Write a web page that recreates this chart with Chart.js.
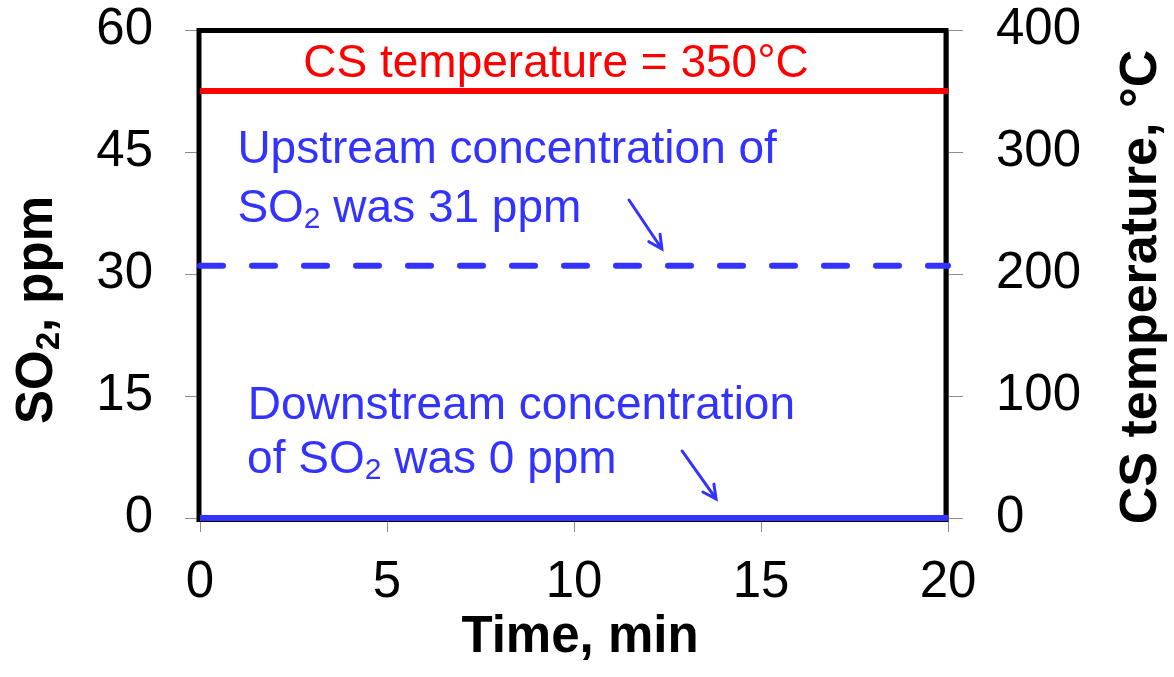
<!DOCTYPE html>
<html>
<head>
<meta charset="utf-8">
<script src="https://cdn.jsdelivr.net/npm/chart.js@4"></script>
<style>
  html, body { margin: 0; padding: 0; background: #fff; }
  #chart { display: block; }
</style>
</head>
<body>
<canvas id="chart" width="1174" height="677"></canvas>
<script>
const timeMin = [0, 20];
const upstreamSO2 = [31, 31];
const downstreamSO2 = [0, 0];
const csTemperature = [350, 350];

const xTicks = [0, 5, 10, 15, 20];
const so2Ticks = [0, 15, 30, 45, 60];
const tempTicks = [0, 100, 200, 300, 400];

const FONT = "'Liberation Sans', Arial, sans-serif";
const BLUE = '#3333ff';
const RED = '#ff0000';
const AXIS_GREY = '#8c8c8c';

// text notes placed in data units (min, ppm); sub parts are subscripts
const NOTES = [
    { x: 9.52, y: 54.2, align: 'center', color: RED, parts: [{ t: 'CS temperature = 350°C' }] },
    { x: 1.0, y: 43.65, align: 'left', color: BLUE, parts: [{ t: 'Upstream concentration of' }] },
    { x: 1.0, y: 36.4, align: 'left', color: BLUE, parts: [{ t: 'SO' }, { t: '2', sub: true }, { t: ' was 31 ppm' }] },
    { x: 1.28, y: 12.17, align: 'left', color: BLUE, parts: [{ t: 'Downstream concentration' }] },
    { x: 1.26, y: 5.53, align: 'left', color: BLUE, parts: [{ t: 'of SO' }, { t: '2', sub: true }, { t: ' was 0 ppm' }] },
];

const ARROWS = [
    { from: [11.47, 39.1], to: [12.35, 33.07] },
    { from: [12.89, 8.24], to: [13.8, 2.34] },
];

function pointsOf(values) {
    return timeMin.map((t, i) => ({ x: t, y: values[i] }));
}

function drawRich(ctx, parts, x, y, size, weight, align) {
    const main = `${weight} ${size}px ${FONT}`;
    const sub = `${weight} ${Math.round(size * 0.65)}px ${FONT}`;
    const widths = parts.map((p) => {
        ctx.font = p.sub ? sub : main;
        return ctx.measureText(p.t).width;
    });
    const total = widths.reduce((s, w) => s + w, 0);
    let cx = align === 'center' ? x - total / 2 : x;
    ctx.textAlign = 'left';
    ctx.textBaseline = 'alphabetic';
    parts.forEach((p, i) => {
        ctx.font = p.sub ? sub : main;
        ctx.fillText(p.t, cx, p.sub ? y + size * 0.14 : y);
        cx += widths[i];
    });
}

function drawArrow(ctx, x0, y0, x1, y1) {
    const ang = Math.atan2(y1 - y0, x1 - x0);
    const head = 15;
    const spread = Math.PI / 6.7;
    ctx.beginPath();
    ctx.moveTo(x0, y0);
    ctx.lineTo(x1, y1);
    ctx.moveTo(x1 - head * Math.cos(ang - spread), y1 - head * Math.sin(ang - spread));
    ctx.lineTo(x1, y1);
    ctx.lineTo(x1 - head * Math.cos(ang + spread), y1 - head * Math.sin(ang + spread));
    ctx.stroke();
}

const decorPlugin = {
    id: 'decor',
    beforeDatasetsDraw(chart) {
        const { ctx, chartArea: a } = chart;
        ctx.save();
        ctx.strokeStyle = '#000';
        ctx.lineWidth = 5;
        ctx.strokeRect(a.left - 1, a.top + 0.5, a.right - a.left - 1, a.bottom - a.top + 1);
        ctx.restore();
    },
    afterDatasetsDraw(chart) {
        const { ctx, chartArea: a, scales } = chart;
        const xs = scales.x;
        const ys = scales.y;
        ctx.save();

        NOTES.forEach((n) => {
            ctx.fillStyle = n.color;
            drawRich(ctx, n.parts, xs.getPixelForValue(n.x), ys.getPixelForValue(n.y), 46, 'normal', n.align);
        });

        ctx.strokeStyle = BLUE;
        ctx.lineWidth = 3;
        ctx.lineCap = 'round';
        ARROWS.forEach((ar) => {
            drawArrow(ctx,
                xs.getPixelForValue(ar.from[0]), ys.getPixelForValue(ar.from[1]),
                xs.getPixelForValue(ar.to[0]), ys.getPixelForValue(ar.to[1]));
        });

        // axis titles
        ctx.fillStyle = '#000';
        ctx.save();
        ctx.translate(52, (a.top + a.bottom) / 2 + 36);
        ctx.rotate(-Math.PI / 2);
        drawRich(ctx, [{ t: 'SO' }, { t: '2', sub: true }, { t: ', ppm' }], 0, 0, 51, 'bold', 'center');
        ctx.restore();

        ctx.save();
        ctx.translate(1156, (a.top + a.bottom) / 2 + 13);
        ctx.rotate(-Math.PI / 2);
        drawRich(ctx, [{ t: 'CS temperature, °C' }], 0, 0, 52, 'bold', 'center');
        ctx.restore();

        drawRich(ctx, [{ t: 'Time, min' }], (a.left + a.right) / 2 + 6, 652, 51, 'bold', 'center');
        ctx.restore();
    },
};

function tickScale(list, width, height) {
    return {
        afterBuildTicks: (s) => { s.ticks = list.map((v) => ({ value: v })); },
        afterFit: (s) => {
            if (width) s.width = width;
            if (height) s.height = height;
            s.paddingTop = 0;
            s.paddingBottom = 0;
            s.paddingLeft = 0;
            s.paddingRight = 0;
        },
    };
}

new Chart(document.getElementById('chart'), {
    type: 'line',
    data: {
        datasets: [
            {
                label: 'Upstream SO2',
                data: pointsOf(upstreamSO2),
                yAxisID: 'y',
                borderColor: BLUE,
                borderWidth: 6,
                borderDash: [23, 29],
                borderCapStyle: 'round',
                pointRadius: 0,
                clip: false,
            },
            {
                label: 'Downstream SO2',
                data: pointsOf(downstreamSO2),
                yAxisID: 'y',
                borderColor: BLUE,
                borderWidth: 6,
                pointRadius: 0,
                clip: false,
            },
            {
                label: 'CS temperature',
                data: pointsOf(csTemperature),
                yAxisID: 'y1',
                borderColor: RED,
                borderWidth: 6,
                pointRadius: 0,
                clip: false,
            },
        ],
    },
    options: {
        responsive: false,
        animation: false,
        layout: { padding: { top: 30, left: 0, right: 0, bottom: 0 } },
        plugins: { legend: { display: false }, tooltip: { enabled: false } },
        scales: {
            x: {
                type: 'linear',
                min: 0,
                max: 20,
                ...tickScale(xTicks, null, 159),
                grid: { drawOnChartArea: false, color: AXIS_GREY, tickLength: 14, lineWidth: 1 },
                border: { color: AXIS_GREY, width: 1 },
                ticks: { color: '#000', font: { family: FONT, size: 51 }, padding: 20, maxRotation: 0 },
            },
            y: {
                position: 'left',
                min: 0,
                max: 60,
                ...tickScale(so2Ticks, 200, null),
                grid: { drawOnChartArea: false, color: AXIS_GREY, tickLength: 15, lineWidth: 1 },
                border: { color: AXIS_GREY, width: 1 },
                ticks: { color: '#000', font: { family: FONT, size: 51 }, padding: 32 },
            },
            y1: {
                position: 'right',
                min: 0,
                max: 400,
                ...tickScale(tempTicks, 226, null),
                grid: { drawOnChartArea: false, color: AXIS_GREY, tickLength: 15, lineWidth: 1 },
                border: { color: AXIS_GREY, width: 1 },
                ticks: { color: '#000', font: { family: FONT, size: 51 }, padding: 33 },
            },
        },
    },
    plugins: [decorPlugin],
});
</script>
</body>
</html>
